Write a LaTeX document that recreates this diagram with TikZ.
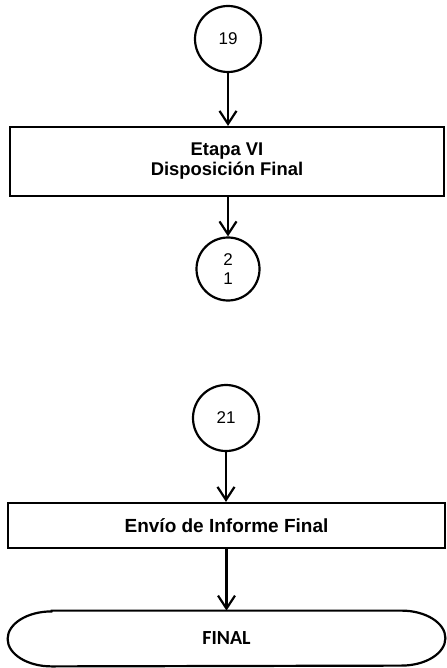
\documentclass[tikz,border=0pt]{standalone}
\usepackage{fontspec}
\setmainfont{Liberation Sans}
\newfontfamily\calibrilike{Carlito}
\usetikzlibrary{arrows.meta,positioning}
\tikzset{
  conector/.style={draw, circle, line width=1.1pt, minimum size=33pt, inner sep=0pt,
    font=\fontsize{8.5}{9.5}\selectfont, align=center},
  proceso/.style={draw, rectangle, line width=1.1pt, inner sep=0pt, align=center,
    font=\bfseries\fontsize{9.5}{10}\selectfont},
  flecha/.style={line width=1.1pt, -{Straight Barb[length=6.5pt,width=8.5pt,line width=1.1pt]}}
}
\begin{document}
\begin{tikzpicture}[x=0.5pt, y=0.5pt]
         \useasboundingbox (0,0) rectangle (446,-668);
         \node [conector] (C19) at (228, -39) {19};
         \node [proceso, minimum width=217pt, minimum height=34.5pt,
                font=\bfseries\fontsize{9.2}{10}\selectfont] (EVI) at (227, -161.5) {Etapa VI\\Disposición Final};
         \node [conector, minimum size=31.5pt] (C2) at (228, -269) {2\\1};
         \node [conector] (C21) at (226, -418) {21};
         \node [proceso, minimum width=218.5pt, minimum height=22.5pt] (EIF) at (226.5, -525.5) {Envío de Informe Final};
         \node [minimum width=218.5pt, minimum height=27.5pt, inner sep=0pt,
                font=\calibrilike\bfseries\fontsize{10}{11}\selectfont] (FIN) at (226.5, -638.5) {FINAL};
         \draw [line width=1.1pt] ([xshift=22pt]FIN.north west) -- ([xshift=-22pt]FIN.north east)
               arc [start angle=90, end angle=-90, x radius=22pt, y radius=13.75pt]
               -- ([xshift=22pt]FIN.south west)
               arc [start angle=270, end angle=90, x radius=22pt, y radius=13.75pt] -- cycle;
         \draw [flecha] (C19) -- (C19 |- EVI.north);
         \draw [flecha] (C2 |- EVI.south) -- (C2);
         \draw [flecha] (C21) -- (C21 |- EIF.north);
         \draw [flecha] (EIF) -- (EIF |- FIN.north);
 \end{tikzpicture}
\end{document}
